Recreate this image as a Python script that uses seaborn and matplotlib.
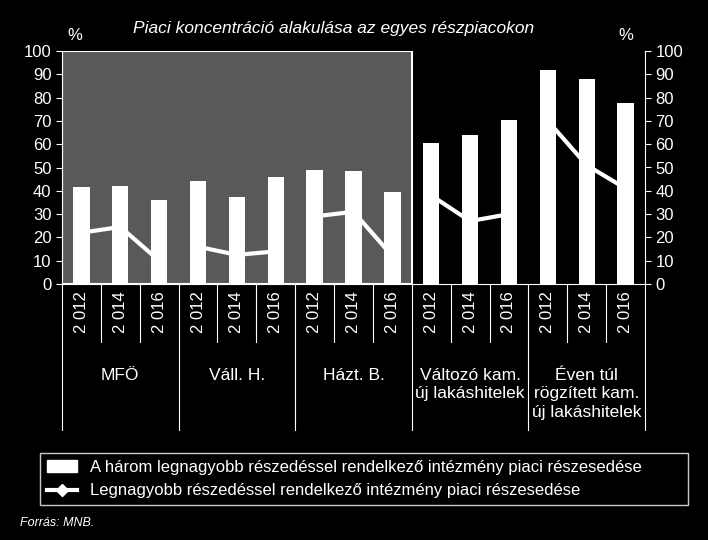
import matplotlib
matplotlib.use("Agg")
import matplotlib.pyplot as plt
import seaborn as sns
import pandas as pd
import numpy as np
from matplotlib.patches import Rectangle, Patch
from matplotlib.lines import Line2D

plt.rcParams["font.family"] = "Liberation Sans"

groups = ["MFÖ", "Váll. H.", "Házt. B.", "Változó kam.\núj lakáshitelek", "Éven túl\nrögzített kam.\núj lakáshitelek"]
years = ["2 012", "2 014", "2 016"]
top3 = [41.5, 42, 36, 44, 37.5, 46, 49, 48.5, 39.5, 60.5, 64, 70.5, 92, 88, 77.5]
largest = [22, 24.5, 10, 16, 12.5, 14, 29, 31, 12, 38, 27, 30, 70, 51, 41]
title = "Piaci koncentráció alakulása az egyes részpiacokon"
bar_label = "A három legnagyobb részedéssel rendelkező intézmény piaci részesedése"
line_label = "Legnagyobb részedéssel rendelkező intézmény piaci részesedése"

keys = [f"{g}|{y}" for g in groups for y in years]
df = pd.DataFrame({"key": keys, "top3": top3, "largest": largest})

fig = plt.figure(figsize=(7.08, 5.4), dpi=100, facecolor="black")
ax = fig.add_axes([62/708, 1-284/540, (645-62)/708, (284-51)/540])
ax.set_facecolor("black")
# gray shaded region first three groups
ax.add_patch(Rectangle((-0.5, 0), 9, 100, facecolor="#595959", edgecolor="white", lw=1.5, zorder=0))
sns.barplot(data=df, x="key", y="top3", order=keys, color="white", width=0.42,
            saturation=1, ax=ax, zorder=2)
for g in range(5):
    idx = np.arange(3*g, 3*g+3)
    ax.plot(idx, df["largest"].values[idx], color="white", lw=3, zorder=3)

ax.set_ylim(0, 100)
ax.set_xlim(-0.5, 14.5)
ax.set_yticks(range(0, 101, 10))
ax.tick_params(axis="y", colors="white", labelsize=12, length=4, direction="out")
ax.set_xticks(range(15))
ax.set_xticklabels([]) 
ax.tick_params(axis="x", length=0)
ax.set_xlabel(""); ax.set_ylabel("")
for s in ["top", "right"]:
    ax.spines[s].set_visible(False)
ax.spines["left"].set_color("white")
ax.spines["bottom"].set_color("white")
ax2 = ax.twinx()
ax2.set_ylim(0, 100)
ax2.set_yticks(range(0, 101, 10))
ax2.tick_params(axis="y", colors="white", labelsize=12, length=4)
for s in ["top", "left", "bottom"]:
    ax2.spines[s].set_visible(False)
ax2.spines["right"].set_color("white")

# year labels and separators
yr_bottom = -58/233*100
grp_bottom = -146/233*100
for i, k in enumerate(keys):
    ax.text(i, -3, k.split("|")[1], rotation=90, ha="center", va="top", color="white", fontsize=12, clip_on=False)
for b in range(16):
    x = b - 0.5
    lo = grp_bottom if b % 3 == 0 else yr_bottom
    ax.plot([x, x], [0, lo], color="white", lw=0.8, clip_on=False)
for g, name in enumerate(groups):
    ax.text(3*g+1, -37 if "\n" not in name else -37 + (name.count("\n"))*0, name,
            ha="center", va="top", color="white", fontsize=12, clip_on=False,
            linespacing=1.25, transform=ax.transData) if False else None
for g, name in enumerate(groups):
    ax.text(3*g+1, -36, name, ha="center", va="top", color="white", fontsize=12.5,
            clip_on=False, linespacing=1.3)

fig.text(334/708, 1-28/540, title, color="white", style="italic", fontsize=12.5, ha="center", va="center")
fig.text(75/708, 1-35/540, "%", color="white", fontsize=12, ha="center", va="center")
fig.text(626/708, 1-35/540, "%", color="white", fontsize=12, ha="center", va="center")
fig.text(20/708, 1-523/540, "Forrás: MNB.", color="white", style="italic", fontsize=9, ha="left", va="center")

handles = [Patch(facecolor="white", edgecolor="white"),
           Line2D([0], [0], color="white", lw=3, marker="D", markersize=6)]
leg = fig.legend(handles, [bar_label, line_label], loc="lower left",
                 bbox_to_anchor=(40/708, 1-505/540, (688-40)/708, (505-437)/540),
                 mode="expand", frameon=True, facecolor="black", edgecolor="white",
                 labelcolor="white", fontsize=12, handlelength=1.8, borderaxespad=0)
leg.get_frame().set_linewidth(1)
leg.get_frame().set_boxstyle("square", pad=0)
fig.savefig("out.png", dpi=100, facecolor="black")
